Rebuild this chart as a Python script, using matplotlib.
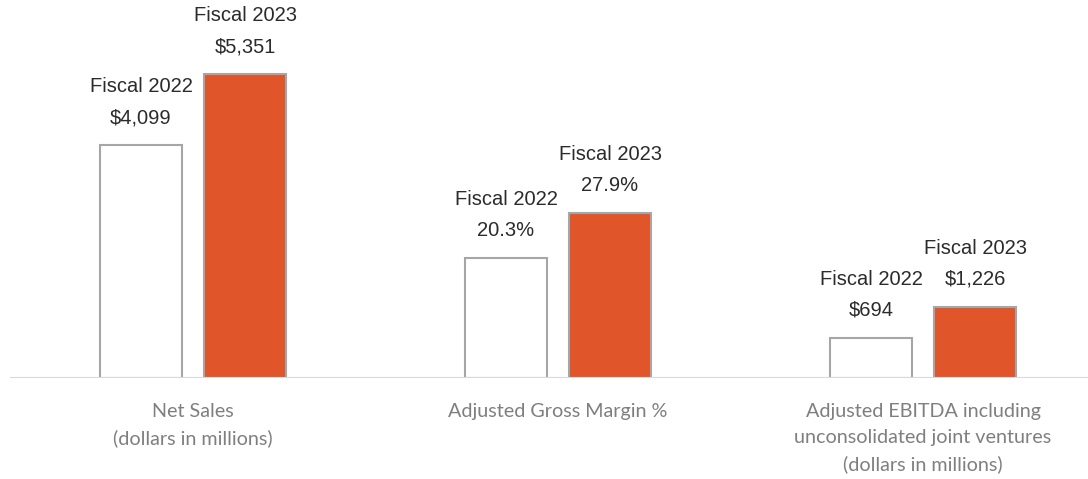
import matplotlib.pyplot as plt

# chart data
categories = ['Net Sales\n(dollars in millions)',
              'Adjusted Gross Margin %',
              'Adjusted EBITDA including\nunconsolidated joint ventures\n(dollars in millions)']
series = ['Fiscal 2022', 'Fiscal 2023']
values_2022 = [4099, 20.3, 694]
values_2023 = [5351, 27.9, 1226]
labels_2022 = ['$4,099', '20.3%', '$694']
labels_2023 = ['$5,351', '27.9%', '$1,226']
# each group is drawn on its own scale (units differ)
group_scale = [0.0568, 5.91, 0.0579]

fig = plt.figure(figsize=(10.88, 4.79), dpi=100)
ax = fig.add_axes([10 / 1088, 101 / 479, 1 - 10 / 1088, 378 / 479])

bar_width = 0.225
offset = 0.1425
orange = '#E0552A'
edge = '#A6A6A6'

for i in range(len(categories)):
    h22 = values_2022[i] * group_scale[i]
    h23 = values_2023[i] * group_scale[i]
    ax.bar(i - offset, h22, bar_width, color='white', edgecolor=edge, linewidth=1.5, zorder=2)
    ax.bar(i + offset, h23, bar_width, color=orange, edgecolor=edge, linewidth=1.5, zorder=2)

    # value labels above each bar
    for x, h, name, lab in [(i - offset, h22, series[0], labels_2022[i]),
                            (i + offset, h23, series[1], labels_2023[i])]:
        ax.annotate(f'{name}\n{lab}', (x, h), xytext=(0, 13), textcoords='offset points',
                    ha='center', va='bottom', fontsize=14.5, color='#2B2B2B',
                    family='Liberation Sans', linespacing=1.78)

    # category label under the axis
    ax.annotate(categories[i], (i, 0), xytext=(0, -18), textcoords='offset points',
                ha='center', va='top', fontsize=14.2, color='#7F7F7F',
                family='Lato', linespacing=1.64)

ax.set_xlim(-0.5014, (1088 - 193) / 365)
ax.set_ylim(0, 378)
ax.axhline(0, color='#D9D9D9', linewidth=1.5, zorder=3)
ax.axis('off')

fig.savefig('out.png', dpi=100)
